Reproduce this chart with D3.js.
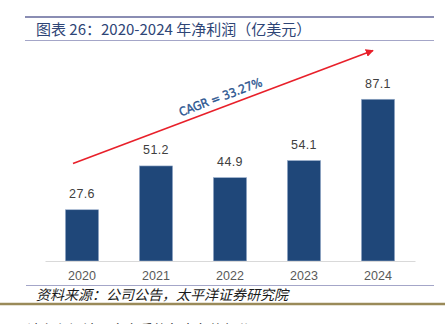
<!DOCTYPE html>
<html>
<head>
<meta charset="utf-8">
<script src="https://cdn.jsdelivr.net/npm/d3@7"></script>
<style>
  html, body { margin: 0; padding: 0; background: #fff; }
  svg { display: block; }
</style>
</head>
<body>
<div id="chart"></div>
<script>
// net profit by year, 100M USD
const years = ["2020", "2021", "2022", "2023", "2024"];
const profit = [27.6, 51.2, 44.9, 54.1, 87.1];
const cagrLabel = "CAGR = 33.27%";
const titleText = "图表 26：2020-2024 年净利润（亿美元）";
const sourceText = "资料来源：公司公告，太平洋证券研究院";
const footerText = "请务必阅读正文之后的免责条款部分";

const WIDTH = 445;
const HEIGHT = 324;
const BASE_Y = 261;
const CJK = "'Noto Sans CJK SC', 'Noto Sans', sans-serif";

let svg = d3.select("#chart")
            .append("svg")
            .attr("width", WIDTH)
            .attr("height", HEIGHT);

// header rules and title
svg.append("line")
   .attr("x1", 25).attr("x2", 434)
   .attr("y1", 17).attr("y2", 17)
   .attr("stroke", "#8a8db3")
   .attr("stroke-width", 2);
svg.append("line")
   .attr("x1", 25).attr("x2", 434)
   .attr("y1", 40.5).attr("y2", 40.5)
   .attr("stroke", "#a4a6c8")
   .attr("stroke-width", 1);
svg.append("text")
   .attr("x", 36)
   .attr("y", 35)
   .attr("font-family", CJK)
   .attr("font-size", 15)
   .attr("fill", "#2e4576")
   .text(titleText);

// scales
let xScale = d3.scaleBand()
               .domain(years)
               .range([45, 415])
               .paddingInner(0.55)
               .paddingOuter(0.275);
let yScale = d3.scaleLinear()
               .domain([0, 100])
               .range([BASE_Y, BASE_Y - 185.7]);

svg.selectAll("rect.bar")
   .data(profit)
   .enter()
   .append("rect")
   .attr("class", "bar")
   .attr("x", (d, i) => xScale(years[i]))
   .attr("y", (d) => yScale(d))
   .attr("width", xScale.bandwidth())
   .attr("height", (d) => BASE_Y - yScale(d))
   .attr("fill", "#1f4779")
   .attr("stroke", "#9fb3cf")
   .attr("stroke-width", 0.6);

svg.selectAll("text.value")
   .data(profit)
   .enter()
   .append("text")
   .attr("class", "value")
   .attr("x", (d, i) => xScale(years[i]) + xScale.bandwidth() / 2)
   .attr("y", (d) => yScale(d) - 11.5)
   .attr("text-anchor", "middle")
   .attr("font-family", "'Liberation Sans', Arial, sans-serif")
   .attr("font-size", 12.5)
   .attr("letter-spacing", 0.4)
   .attr("fill", "#404040")
   .text((d) => d.toFixed(1));

// category axis
let xAxis = d3.axisBottom(xScale).tickSize(0).tickPadding(10);
let gx = svg.append("g")
            .attr("transform", "translate(0," + BASE_Y + ")")
            .call(xAxis);
gx.select(".domain").attr("stroke", "#d9d9d9").attr("stroke-width", 1);
gx.selectAll("text")
  .attr("font-family", "'Liberation Sans', Arial, sans-serif")
  .attr("font-size", 12.5)
  .attr("fill", "#595959");

// growth arrow
svg.append("defs")
   .append("marker")
   .attr("id", "arrow")
   .attr("viewBox", "0 0 10 10")
   .attr("refX", 9).attr("refY", 5)
   .attr("markerWidth", 5).attr("markerHeight", 5)
   .attr("orient", "auto")
   .append("path")
   .attr("d", "M0,0L10,5L0,10Z")
   .attr("fill", "#e8202a");
svg.append("line")
   .attr("x1", 73).attr("y1", 163.5)
   .attr("x2", 373).attr("y2", 50.5)
   .attr("stroke", "#e8202a")
   .attr("stroke-width", 1.6)
   .attr("marker-end", "url(#arrow)");

let angle = Math.atan2(50.5 - 163.5, 373 - 73) * 180 / Math.PI;
svg.append("text")
   .attr("transform", "translate(222,101) rotate(" + angle + ")")
   .attr("text-anchor", "middle")
   .attr("font-family", "'DejaVu Sans Condensed', 'Liberation Sans Narrow', sans-serif")
   .attr("font-size", 12)
   .attr("fill", "#2a5590")
   .attr("stroke", "#2a5590")
   .attr("stroke-width", 0.35)
   .text(cagrLabel);

// source line and footer
svg.append("line")
   .attr("x1", 26).attr("x2", 434)
   .attr("y1", 285.5).attr("y2", 285.5)
   .attr("stroke", "#a4a6c8")
   .attr("stroke-width", 1);
svg.append("text")
   .attr("x", 36)
   .attr("y", 300)
   .attr("font-family", CJK)
   .attr("font-size", 14)
   .attr("font-style", "italic")
   .attr("fill", "#1a1a1a")
   .text(sourceText);
svg.append("line")
   .attr("x1", 0).attr("x2", WIDTH)
   .attr("y1", 304).attr("y2", 304)
   .attr("stroke", "#9a8a59")
   .attr("stroke-width", 2.5);
svg.append("text")
   .attr("x", 27)
   .attr("y", 335)
   .attr("font-family", CJK)
   .attr("font-size", 14)
   .attr("fill", "#333")
   .text(footerText);
</script>
</body>
</html>
